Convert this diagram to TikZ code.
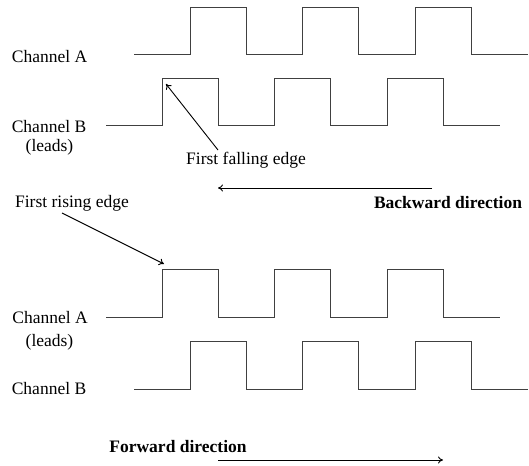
\documentclass[tikz,border=0pt]{standalone}
\usepackage{fontspec}
\setmainfont{Liberation Serif}
\usetikzlibrary{arrows.meta}

\tikzset{
  pulse/.style={line width=1pt, draw=black!75},
  pointer/.style={line width=0.9pt, -{To[length=5pt,width=7pt]}},
  lbl/.style={inner sep=0pt, font=\fontsize{17.5}{21}\selectfont},
  boldlbl/.style={lbl, font=\fontsize{17.5}{21}\selectfont\bfseries},
}

% pulse train: #1 start x, #2 first rising edge x, #3 low y, #4 high y
\newcommand{\pulsetrain}[4]{%
  \draw [pulse] (#1,#3)
    foreach \k in {0,1,2}{
      -- ({#2+\k*112.6},#3) -- ({#2+\k*112.6},#4)
      -- ({#2+\k*112.6+56.3},#4) -- ({#2+\k*112.6+56.3},#3)
    } -- ({#2+2*112.6+112.6},#3);
}

\begin{document}
\begin{tikzpicture}[x=1pt,y=-1pt]
  \useasboundingbox (0,0) rectangle (529,465);

  % Backward direction: B leads
  \node [lbl] (chAtop) at (49.5,57) {Channel A};
  \node [lbl] (chBtop) at (49,127) {Channel B};
  \node [lbl] (leadsB) at (49.5,147) {(leads)};
  \pulsetrain{134}{190}{55}{8}
  \pulsetrain{106}{162}{126}{79}

  \node [lbl] (falling) at (246,160) {First falling edge};
  \coordinate (fallTail) at (218,150);
  \coordinate (fallHead) at (166,84);
  \draw [pointer] (fallTail) -- (fallHead);

  \coordinate (backStart) at (432,188);
  \coordinate (backEnd) at (218,188);
  \draw [pointer] (backStart) -- (backEnd);
  \node [boldlbl] (backward) at (448,203) {Backward direction};

  % Forward direction: A leads
  \node [lbl] (rising) at (72,203) {First rising edge};
  \coordinate (riseTail) at (62,213);
  \coordinate (riseHead) at (164,264);
  \draw [pointer] (riseTail) -- (riseHead);

  \node [lbl] (chAbot) at (50,318) {Channel A};
  \node [lbl] (leadsA) at (49.5,342) {(leads)};
  \node [lbl] (chBbot) at (49,389) {Channel B};
  \pulsetrain{106}{162}{317}{269}
  \pulsetrain{134}{190}{389}{341}

  \node [boldlbl] (forward) at (178,447) {Forward direction};
  \coordinate (fwdStart) at (218,460);
  \coordinate (fwdEnd) at (443,460);
  \draw [pointer] (fwdStart) -- (fwdEnd);
\end{tikzpicture}
\end{document}
